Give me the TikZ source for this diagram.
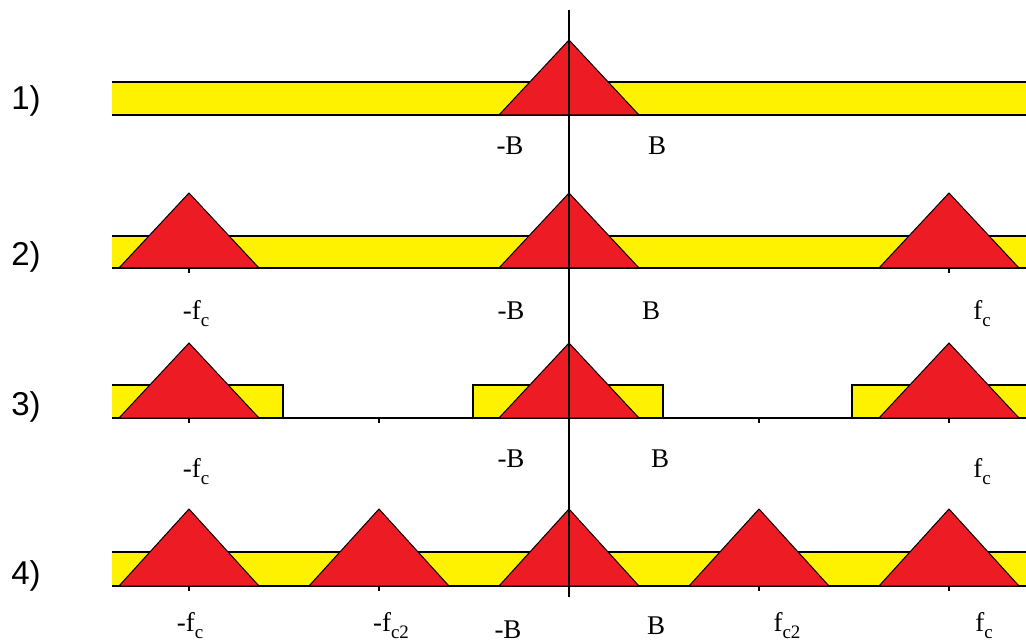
\documentclass[tikz,border=0pt]{standalone}
\usepackage{fontspec}
\setmainfont{Liberation Serif}
\newfontfamily\arialfont{Liberation Sans}
\definecolor{bandyellow}{HTML}{FFF200}
\definecolor{peakred}{HTML}{ED1C24}
\newcommand\fsub[1]{f\lower7pt\hbox{\fontsize{19}{19}\selectfont #1}}
\newcommand\peak[3]{% center x, baseline y, apex y
  \filldraw[peakshape] ({#1-70},#2) -- (#1,#3) -- ({#1+70},#2) -- cycle;}
\newcommand\tickat[2]{\draw[tickline] (#1,#2) -- (#1,{#2+5});}
\begin{document}
\begin{tikzpicture}[x=1pt,y=-1pt,
  bandline/.style={line width=1.6pt},
  peakshape/.style={fill=peakred,draw=black,line width=1pt,line join=miter},
  axisline/.style={line width=1.8pt},
  tickline/.style={line width=1.6pt},
  rowlabel/.style={font=\arialfont\fontsize{33}{33}\selectfont,anchor=base,inner sep=0pt},
  flabel/.style={font=\fontsize{27}{27}\selectfont,anchor=base,inner sep=0pt}]
\useasboundingbox (0,0) rectangle (1026,644);

% ---- row 1
\fill[bandyellow] (112,82) rectangle (1026,115);
\draw[bandline] (112,82) -- (1026,82) (112,115) -- (1026,115);
\peak{569}{115}{40}

% ---- row 2
\fill[bandyellow] (112,236) rectangle (1026,268);
\draw[bandline] (112,236) -- (1026,236) (112,268) -- (1026,268);
\peak{189}{268}{193}
\peak{569}{268}{193}
\peak{949}{268}{193}
\tickat{189}{268}\tickat{949}{268}

% ---- row 3
\fill[bandyellow] (112,385) rectangle (283,418);
\fill[bandyellow] (473,385) rectangle (663,418);
\fill[bandyellow] (852,385) rectangle (1026,418);
\draw[bandline] (112,385) -- (283,385) -- (283,418);
\draw[bandline] (473,418) -- (473,385) -- (663,385) -- (663,418);
\draw[bandline] (852,418) -- (852,385) -- (1026,385);
\draw[bandline] (112,418) -- (1026,418);
\peak{189}{418}{343}
\peak{569}{418}{343}
\peak{949}{418}{343}
\tickat{189}{418}\tickat{379}{418}\tickat{759}{418}\tickat{949}{418}

% ---- row 4
\fill[bandyellow] (112,552) rectangle (1026,586);
\draw[bandline] (112,552) -- (1026,552) (112,586) -- (1026,586);
\peak{189}{586}{509}
\peak{379}{586}{509}
\peak{569}{586}{509}
\peak{759}{586}{509}
\peak{949}{586}{509}
\tickat{189}{586}\tickat{379}{586}\tickat{759}{586}\tickat{949}{586}

% ---- vertical axis
\coordinate (axtop) at (569,10);
\coordinate (axbot) at (569,597);
\draw[axisline] (axtop) -- (axbot);

% ---- row labels
\node[rowlabel] (r1) at (26,110) {1)};
\node[rowlabel] (r2) at (26,266) {2)};
\node[rowlabel] (r3) at (26,416) {3)};
\node[rowlabel] (r4) at (26,584) {4)};

% ---- frequency labels
\node[flabel] (b1m) at (510,155) {-B};
\node[flabel] (b1p) at (657,155) {B};

\node[flabel] (fc2m) at (196,320) {-\fsub{c}};
\node[flabel] (b2m) at (511,320) {-B};
\node[flabel] (b2p) at (651,320) {B};
\node[flabel] (fc2p) at (982,320) {\fsub{c}};

\node[flabel] (fc3m) at (196,477) {-\fsub{c}};
\node[flabel] (b3m) at (511,467) {-B};
\node[flabel] (b3p) at (660,467) {B};
\node[flabel] (fc3p) at (982,477) {\fsub{c}};

\node[flabel] (fc4m) at (190,631) {-\fsub{c}};
\node[flabel] (fctwo4m) at (391,631) {-\fsub{c2}};
\node[flabel] (b4m) at (508,638) {-B};
\node[flabel] (b4p) at (656,634) {B};
\node[flabel] (fctwo4p) at (787,631) {\fsub{c2}};
\node[flabel] (fc4p) at (984,631) {\fsub{c}};
\end{tikzpicture}
\end{document}
